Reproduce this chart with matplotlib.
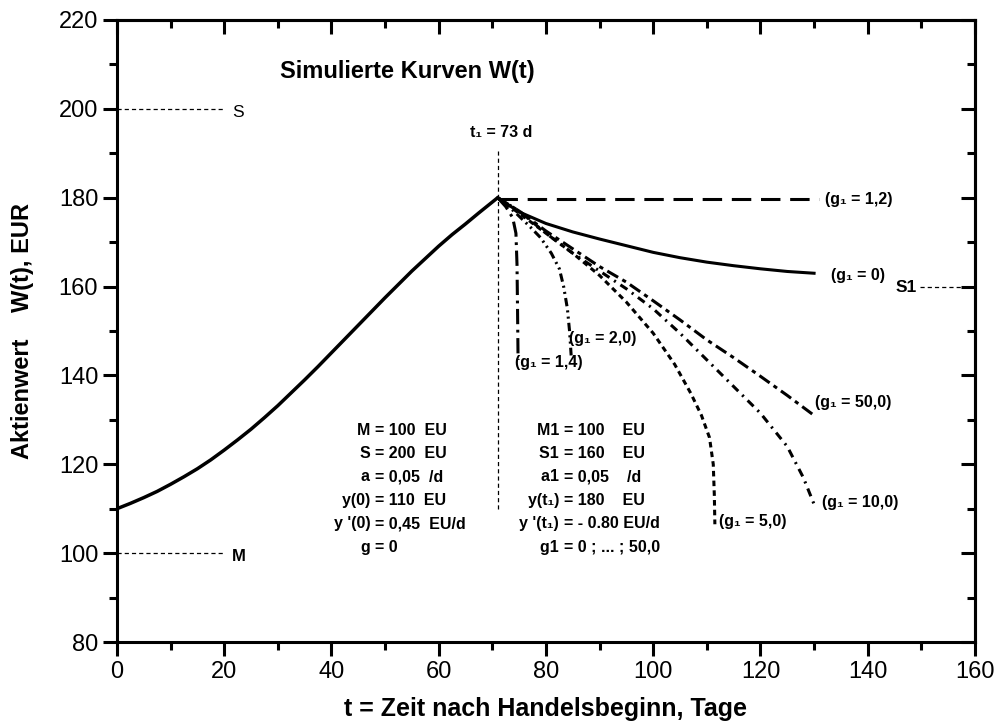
import matplotlib
matplotlib.use("Agg")
import matplotlib.pyplot as plt
from matplotlib.ticker import MultipleLocator

plt.rcParams['font.family'] = ['Liberation Sans', 'DejaVu Sans']
plt.rcParams['lines.scale_dashes'] = False

# rising part, g = 0
t_rise = [0, 2.5, 5, 7.5, 10, 12.5, 15, 17.5, 20, 22.5, 25, 27.5, 30, 32.5, 35, 37.5,
          40, 42.5, 45, 47.5, 50, 52.5, 55, 57.5, 60, 62.5, 65, 67.5, 71]
w_rise = [110, 111.2, 112.5, 113.9, 115.5, 117.2, 119.0, 121.0, 123.2, 125.5, 127.9,
          130.5, 133.2, 136.1, 139.0, 142.0, 145.1, 148.2, 151.3, 154.4, 157.5, 160.5,
          163.5, 166.3, 169.1, 171.7, 174.1, 176.6, 180]

# decay curves after t1 for several g1
t_g0 = [71, 75, 80, 85, 90, 95, 100, 105, 110, 115, 120, 125, 130]
w_g0 = [180, 176.8, 174.2, 172.3, 170.7, 169.2, 167.7, 166.5, 165.5, 164.7, 164.0, 163.4, 163.0]

t_g12 = [71, 131]
w_g12 = [179.7, 179.7]

t_g14 = [71, 72.5, 73.8, 74.4, 74.6, 74.7, 74.8]
w_g14 = [180, 178, 175.5, 172, 165, 155, 143.5]

t_g20 = [71, 74, 77, 79, 81, 82.5, 83.3, 84, 84.4, 84.7]
w_g20 = [180, 177, 173.5, 171, 167.5, 164, 160, 155, 150, 144.5]

t_g50 = [71, 75, 80, 85, 90, 95, 100, 104, 107, 109, 110.5, 111.2, 111.4, 111.5]
w_g50 = [180, 176.5, 172, 167.5, 162.5, 156.5, 149.5, 142.5, 136, 131, 126, 120, 113, 106.5]

t_g100 = [71, 75, 80, 85, 90, 95, 100, 105, 110, 115, 120, 125, 128, 130]
w_g100 = [180, 177, 172, 167.5, 163.5, 159.5, 155, 149.5, 143.5, 137.5, 131.5, 124, 117, 111]

t_g500 = [71, 75, 80, 85, 90, 95, 100, 105, 110, 115, 120, 125, 130]
w_g500 = [180, 177, 172.5, 168.5, 164.5, 161, 156.8, 152.5, 148, 144, 139.8, 135.5, 131]

curve_labels = ['(g\u2081 = 1,2)', '(g\u2081 = 0)', '(g\u2081 = 2,0)', '(g\u2081 = 1,4)',
                '(g\u2081 = 50,0)', '(g\u2081 = 10,0)', '(g\u2081 = 5,0)']
label_t = [132, 133.1, 84.3, 74.2, 130.2, 131.5, 112.3]
label_w = [179.7, 162.6, 148.4, 143.0, 134.0, 111.3, 107.2]

params_left = [('M', '= 100  EU'), ('S', '= 200  EU'), ('a', '= 0,05  /d'),
               ('y(0)', '= 110  EU'), ("y '(0)", '= 0,45  EU/d'), ('g', '= 0')]
params_right = [('M1', '= 100    EU'), ('S1', '= 160    EU'), ('a1', '= 0,05    /d'),
                ('y(t\u2081)', '= 180    EU'), ("y '(t\u2081)", '= - 0.80 EU/d'),
                ('g1', '= 0 ; ... ; 50,0')]

fig = plt.figure(figsize=(9.98, 7.22), dpi=100)
ax = fig.add_axes([0.1172, 0.1108, 0.8597, 0.8615])

lw = 2.2
ax.plot(t_rise, w_rise, color='black', lw=2.5, solid_capstyle='round', solid_joinstyle='round')
ax.plot(t_g0, w_g0, color='black', lw=lw, solid_joinstyle='round')
ax.plot(t_g12, w_g12, color='black', lw=lw, ls=(0, (14, 7)))
ax.plot(t_g14, w_g14, color='black', lw=lw, ls=(0, (11, 4, 2, 4)))
ax.plot(t_g20, w_g20, color='black', lw=lw, ls=(0, (6, 3, 1.5, 3, 1.5, 3)))
ax.plot(t_g50, w_g50, color='black', lw=lw, ls=(0, (4, 3)))
ax.plot(t_g100, w_g100, color='black', lw=lw, ls=(0, (6, 4, 1.5, 4)))
ax.plot(t_g500, w_g500, color='black', lw=lw, ls=(0, (9, 3.5, 3, 3.5)))

# reference levels
thin = dict(color='black', lw=0.9, ls=(0, (3, 2.2)))
ax.plot([0, 20], [200, 200], **thin)
ax.plot([0, 20], [100, 100], **thin)
ax.plot([149.7, 160], [160, 160], **thin)
ax.plot([71, 71], [110, 190.5], **thin)
ax.text(21.5, 199.2, 'S', fontsize=12.5, va='center', ha='left')
ax.text(21.5, 99.2, 'M', fontsize=12, fontweight='bold', va='center', ha='left')
ax.text(149.2, 159.8, 'S1', fontsize=12.5, fontweight='bold', va='center', ha='right')
ax.text(71.6, 194.6, 't\u2081 = 73 d', fontsize=11.5, fontweight='bold', ha='center', va='center')

ax.text(30.4, 208.5, 'Simulierte Kurven W(t)', fontsize=17, fontweight='bold',
        ha='left', va='center')

for s, x, y in zip(curve_labels, label_t, label_w):
    ax.text(x, y, s, fontsize=11.5, fontweight='bold', ha='left', va='center')

y0, dy = 127.7, 5.27
for i, (lhs, rhs) in enumerate(params_left):
    ax.text(48.1, y0 - i * dy, lhs + ' ', fontsize=11.5, fontweight='bold', ha='right', va='center')
    ax.text(48.1, y0 - i * dy, rhs, fontsize=11.5, fontweight='bold', ha='left', va='center')
for i, (lhs, rhs) in enumerate(params_right):
    ax.text(83.3, y0 - i * dy, lhs + ' ', fontsize=11.5, fontweight='bold', ha='right', va='center')
    ax.text(83.3, y0 - i * dy, rhs, fontsize=11.5, fontweight='bold', ha='left', va='center')

ax.set_xlim(0, 160)
ax.set_ylim(80, 220)
ax.set_xticks(range(0, 161, 20))
ax.set_yticks(range(80, 221, 20))
ax.xaxis.set_minor_locator(MultipleLocator(10))
ax.yaxis.set_minor_locator(MultipleLocator(10))
ax.tick_params(which='major', direction='out', length=10, width=2.2, labelsize=17)
ax.tick_params(which='minor', direction='out', length=6, width=2.2)
for sp in ax.spines.values():
    sp.set_linewidth(2.2)

# top and right axes with inward ticks
secx = ax.secondary_xaxis('top')
secx.set_xticks(range(0, 161, 20))
secx.xaxis.set_minor_locator(MultipleLocator(10))
secx.tick_params(which='major', direction='in', length=10, width=2.2, labeltop=False)
secx.tick_params(which='minor', direction='in', length=6, width=2.2)
secx.spines['top'].set_linewidth(2.2)
secy = ax.secondary_yaxis('right')
secy.set_yticks(range(80, 221, 20))
secy.yaxis.set_minor_locator(MultipleLocator(10))
secy.tick_params(which='major', direction='in', length=10, width=2.2, labelright=False)
secy.tick_params(which='minor', direction='in', length=6, width=2.2)
secy.spines['right'].set_linewidth(2.2)

ax.set_xlabel('t = Zeit nach Handelsbeginn, Tage', fontsize=18, fontweight='bold')
ax.set_ylabel('Aktienwert    W(t), EUR', fontsize=17, fontweight='bold')
ax.xaxis.set_label_coords(0.5, -0.088)
ax.yaxis.set_label_coords(-0.097, 0.5)

fig.savefig('out.png', dpi=100)
